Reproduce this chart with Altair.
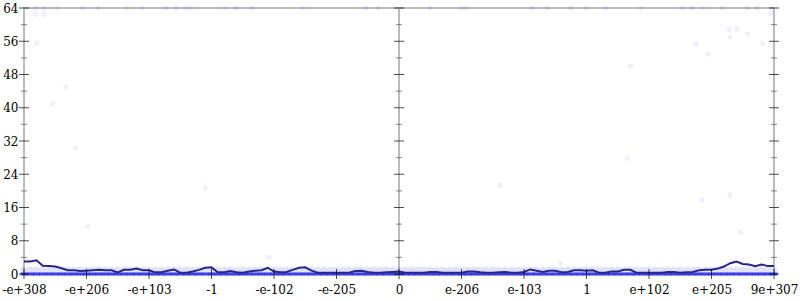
import json
import altair as alt
import pandas as pd

# ---- data ----
x_labels = ["-e+308", "-e+206", "-e+103", "-1", "-e-102", "-e-205", "0",
            "e-206", "e-103", "1", "e+102", "e+205", "9e+307"]
x_tick_pos = [-6, -5, -4, -3, -2, -1, 0, 1, 2, 3, 4, 5, 6]
y_major = [0, 8, 16, 24, 32, 40, 48, 56, 64]
y_minor = [4, 12, 20, 28, 36, 44, 52, 60]
frame_x = [-6, 0, 6]

# bucket positions along the ordered-double axis (121 buckets)
bucket_x = [round(-6 + 0.1 * i, 1) for i in range(121)]

# mean per bucket (dark line)
mean_y = [3.0, 3.0, 3.3, 2.0, 1.9, 1.8, 1.4, 0.9, 0.9, 0.7, 0.8, 0.9, 1.0, 0.9, 0.9, 0.4,
          1.0, 1.0, 1.3, 0.9, 0.9, 0.4, 0.4, 0.8, 1.1, 0.3, 0.3, 0.6, 1.0, 1.5, 1.6,
          0.4, 0.4, 0.7, 0.4, 0.3, 0.6, 0.8, 0.9, 1.5, 0.6, 0.4, 0.5, 1.0, 1.5, 1.6,
          0.8, 0.3, 0.3, 0.3, 0.3, 0.3, 0.3, 0.7, 0.8, 0.5, 0.3, 0.3, 0.4, 0.5, 0.6,
          0.3, 0.3, 0.3, 0.3, 0.5, 0.5, 0.3, 0.3, 0.3, 0.3, 0.6, 0.6, 0.4, 0.3, 0.3,
          0.4, 0.5, 0.3, 0.3, 0.5, 1.1, 0.8, 0.5, 0.8, 0.8, 0.4, 0.5, 0.9, 0.9, 0.8,
          0.9, 0.3, 0.3, 0.6, 0.6, 1.0, 1.0, 0.3, 0.3, 0.3, 0.3, 0.3, 0.5, 0.5, 0.3,
          0.4, 0.5, 0.9, 1.0, 1.0, 1.3, 1.8, 2.6, 3.0, 2.4, 2.3, 1.9, 2.3, 1.9, 1.9]

# every bucket has samples at 0 and at 1
zero_y = [0] * len(bucket_x)
one_y = [1] * len(bucket_x)

# sparse high samples
outlier_x = [-5.82, -5.68, -5.47, -5.06, -4.82, -4.35, -4.11, -3.73, -3.57, -3.41, -3.33,
             -2.78, -2.62, -2.35, -1.54, -0.53, -0.34, 0.50, 0.99, 1.07, 2.13, 2.37, 2.75,
             2.99, 3.30, 3.86, 4.54, 4.70, 4.86, 5.17, 5.57, 5.73,
             -5.82, -5.68, -5.79, -5.33, -5.54, -5.18, -4.98, -3.10, -2.08, 1.62, 3.65,
             3.71, 5.28, 5.41, 5.30, 5.58, 4.75, 4.94, 5.82, 5.95, 5.30, 5.47, 4.85, 2.58]
outlier_y = [64, 64, 64, 64, 64, 64, 64, 64, 64, 64, 64,
             64, 64, 64, 64, 64, 64, 64, 64, 64, 64, 64, 64,
             64, 64, 64, 64, 64, 64, 64, 64, 64,
             62.5, 62.5, 55.6, 45, 41, 30.3, 11.5, 20.7, 4.1, 21.4, 27.9,
             50, 58.9, 58.9, 57, 57.7, 55.3, 52.9, 55.5, 62.8, 19, 10, 17.8, 2.6]

# ---- tables ----
line_df = pd.DataFrame({"x": bucket_x, "y": mean_y})
zero_df = pd.DataFrame({"x": bucket_x, "y": zero_y})
ones_df = pd.DataFrame({"x": bucket_x, "y": one_y})
out_df = pd.DataFrame({"x": outlier_x, "y": outlier_y})
ymaj_df = pd.DataFrame([{"x": fx, "y": v} for fx in frame_x for v in y_major])
ymin_df = pd.DataFrame([{"x": fx, "y": v} for fx in frame_x for v in y_minor])
xt_df = pd.DataFrame({"x": x_tick_pos, "y": [0] * len(x_tick_pos)})
center_df = pd.DataFrame({"x": [0], "y": [0]})

xs = alt.Scale(domain=[-6, 6], nice=False, zero=False)
ys = alt.Scale(domain=[0, 64], nice=False, zero=False)

FONT = "DejaVu Serif"
label_expr = json.dumps(x_labels) + "[round(datum.value) + 6]"

x_axis = alt.Axis(values=x_tick_pos, labelExpr=label_expr, ticks=False, domain=False,
                  grid=False, labelPadding=10, labelFont=FONT, labelFontSize=12,
                  labelColor="black", title=None, labelFlush=False, labelOverlap=False,
                  labelBound=False)
y_axis = alt.Axis(values=y_major, ticks=False, domain=False, grid=False, labelPadding=6,
                  labelFont=FONT, labelFontSize=12, labelColor="black", title=None,
                  labelFlush=False, labelOverlap=False)


def X():
    return alt.X("x:Q", scale=xs, axis=x_axis, title=None)


def Y():
    return alt.Y("y:Q", scale=ys, axis=y_axis, title=None)


center = alt.Chart(center_df).mark_rule(color="#bbbbbb", strokeWidth=2).encode(
    x=X(), y=alt.value(0), y2=alt.value(266))

ones = alt.Chart(ones_df).mark_circle(color="#3030e0", opacity=0.14, size=45).encode(
    x=X(), y=Y())

outs = alt.Chart(out_df).mark_circle(color="#3030e0", opacity=0.07, size=28).encode(
    x=X(), y=Y())

zeros = alt.Chart(zero_df).mark_point(
    shape="M-1,-0.45L1,-0.45L1,0.45L-1,0.45Z", filled=True, color="#2c2ce8",
    opacity=0.85, size=49, strokeWidth=0).encode(x=X(), y=Y())

line = alt.Chart(line_df).mark_line(color="#26268f", strokeWidth=2).encode(x=X(), y=Y())

ymaj = alt.Chart(ymaj_df).mark_tick(orient="horizontal", size=10, thickness=1,
                                    color="black").encode(x=X(), y=Y())
ymin = alt.Chart(ymin_df).mark_tick(orient="horizontal", size=6, thickness=1,
                                    color="#555555").encode(x=X(), y=Y())
xt = alt.Chart(xt_df).mark_tick(orient="vertical", size=10, thickness=1,
                                color="black").encode(x=X(), y=Y())

chart = alt.layer(center, ones, outs, zeros, line, ymin, ymaj, xt).properties(
    width=750, height=266,
    autosize=alt.AutoSizeParams(type="none"),
    padding={"left": 24, "top": 8, "right": 26, "bottom": 26},
    background="white",
).configure_view(stroke="#bbbbbb", strokeWidth=2)

chart.save("out.html", embed_options={"renderer": "svg", "actions": False})
